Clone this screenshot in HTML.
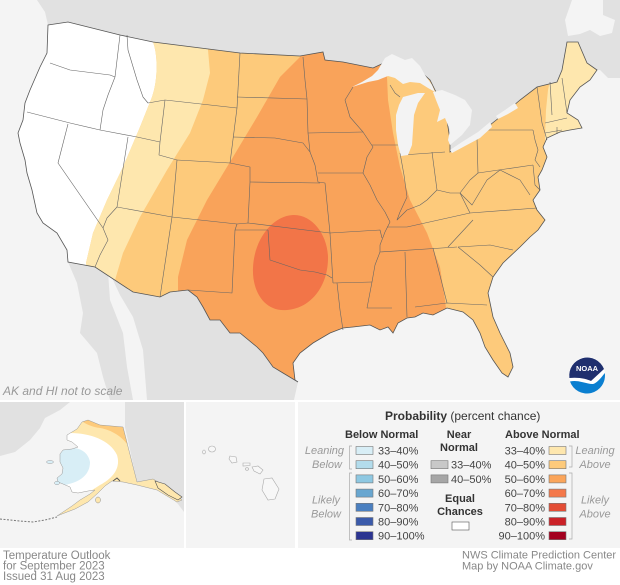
<!DOCTYPE html>
<html><head><meta charset="utf-8"><style>
html,body{margin:0;padding:0;background:#fff;}
svg{display:block;font-family:"Liberation Sans",sans-serif;}
</style></head><body>
<svg width="620" height="585" viewBox="0 0 620 585" xmlns="http://www.w3.org/2000/svg">
<rect width="620" height="585" fill="#fff"/>
<rect x="0" y="0" width="620" height="400" fill="#f4f4f4"/>
<!-- Canada -->
<path fill="#e1e1e1" d="M37,0 L620,0 L620,78 L608,78 L600,70 L597,70 L587,63 L578,42 L567,42 L562,70 L557,82 L537,87 L520,100 L505,113 L490,125 L470,142 L450,152 L447,120 L440,100 L435,90 L430,80 L410,62 L390,60 L373,68 L343,62 L325,60 L323,52 L300,56 L240,53 L153,42 L120,35 L68,22 L48,25 L45,12 Z"/>
<path fill="#f4f4f4" d="M572,0 L603,0 L603,15 L615,20 L612,33 L600,36 L590,30 L580,34 L568,36 L565,20 Z"/>
<!-- Mexico -->
<path fill="#e1e1e1" d="M68,262 L95,267 L133,292 L160,297 L170,292 L188,290 L197,297 L203,307 L210,320 L220,320 L230,333 L240,333 L257,347 L263,353 L273,367 L283,373 L298,382 L294,400 L147,400 L143,350 L133,317 L120,295 L112,278 L108,272 Z"/>
<path fill="#e1e1e1" d="M68,262 L108,272 L110,300 L123,333 L127,367 L133,400 L110,400 L103,377 L97,353 L80,333 L83,313 L77,283 Z"/>
<defs>
<clipPath id="us"><path id="usp" d="M48,25 L68,22 L120,35 L153,42 L240,53 L300,56 L323,52 L325,60 L343,62 L373,68 L390,60 L410,62 L430,80 L435,90 L440,100 L447,120 L450,140 L450,152 L470,142 L490,125 L505,113 L520,100 L537,87 L557,82 L562,70 L567,42 L578,42 L587,63 L597,70 L590,80 L580,87 L570,100 L567,113 L578,120 L582,128 L570,130 L560,132 L547,138 L543,147 L547,157 L542,170 L538,177 L540,190 L533,200 L537,210 L545,220 L538,230 L530,237 L520,247 L503,263 L493,277 L488,293 L493,317 L500,333 L510,353 L513,367 L508,377 L502,373 L493,360 L485,347 L480,333 L473,320 L463,312 L447,308 L433,315 L423,313 L415,317 L407,318 L398,323 L393,333 L388,327 L380,330 L370,325 L353,327 L343,328 L330,333 L313,343 L300,353 L293,363 L295,380 L298,382 L283,373 L273,367 L263,353 L257,347 L240,333 L230,333 L220,320 L210,320 L203,307 L197,297 L188,290 L170,292 L160,297 L133,292 L95,267 L68,262 L67,250 L57,233 L43,223 L37,213 L32,190 L27,173 L25,160 L20,143 L18,133 L23,120 L25,103 L30,90 L40,67 L47,53 Z"/></clipPath>
<clipPath id="ak"><path d="M67,435 L77,429 L82,422 L88,420 L100,425 L123,427 L137,482 L153,479 L167,487 L182,500 L177,502 L157,490 L137,485 L123,482 L112,481 L105,486 L98,493 L88,502 L75,509 L62,514 L57,516 L72,506 L80,500 L90,494 L95,490 L88,491 L78,493 L72,492 L70,487 L63,484 L58,482 L57,478 L62,474 L63,468 L60,462 L60,454 L63,450 L72,449 L78,447 L72,442 L67,440 Z"/></clipPath>
</defs>
<g clip-path="url(#us)">
<rect x="0" y="0" width="620" height="400" fill="#fdca7b"/>
<path fill="#ffffff" d="M0,0 L153,0 L153,42 C158,55 158,80 152,97 L140,127 L123,167 L107,200 L93,233 L86,263 L86,300 L0,300 Z"/>
<path fill="#fee7ae" d="M153,0 L208,0 L208,50 L210,73 L203,100 L190,133 L167,170 L140,217 L123,253 L115,280 L112,300 L86,300 L86,263 L93,233 L107,200 L123,167 L140,127 L152,97 C158,80 158,55 153,42 Z"/>
<path fill="#f9a35a" d="M310,30 L300,57 L280,77 L257,117 L233,157 L207,200 L187,240 L178,277 L178,300 L175,400 L447,400 L447,317 L445,300 L440,267 L427,233 L410,200 L400,167 L393,133 L388,100 L387,77 L386,30 Z"/>
<path fill="#f27548" d="M293,215 C312,214 328,235 328,258 C328,285 312,308 287,310 C265,312 252,292 253,268 C254,240 272,216 293,215 Z"/>
<path fill="#fee7ae" d="M552,30 L620,30 L620,150 L545,150 L545,137 L546,110 L548,90 L551,75 Z"/>
</g>
<g fill="none" stroke="#666" stroke-width="0.6" stroke-linejoin="round">
<polyline points="50,63 70,70 110,75 115,77"/>
<polyline points="120,35 115,77"/>
<polyline points="115,77 108,95 103,110 100,130"/>
<polyline points="27,112 70,123 100,130 137,137 160,142"/>
<polyline points="68,124 58,163 103,228"/>
<polyline points="103,228 108,240 100,255 95,267"/>
<polyline points="128,137 117,207 107,218 103,228"/>
<polyline points="127,35 128,50 137,80 143,97 148,103 165,100"/>
<polyline points="165,100 160,142 159,155 177,160"/>
<polyline points="177,160 230,163"/>
<polyline points="165,100 237,108"/>
<polyline points="237,108 230,163"/>
<polyline points="240,53 237,108"/>
<polyline points="237,97 307,99"/>
<polyline points="233,137 275,138 303,143 310,152"/>
<polyline points="230,163 250,167 250,182 248,223"/>
<polyline points="250,182 320,183"/>
<polyline points="117,207 172,217 237,224 248,223 330,233"/>
<polyline points="177,160 172,217 160,297"/>
<polyline points="237,224 235,230 268,230"/>
<polyline points="235,230 232,293 188,290"/>
<polyline points="268,230 270,260 285,265 300,270 315,272 327,275 332,278"/>
<polyline points="330,233 333,283"/>
<polyline points="303,57 305,80 307,99 308,133 310,152 315,165 318,182 325,183 330,233"/>
<polyline points="308,133 363,132"/>
<polyline points="318,173 363,173"/>
<polyline points="330,233 380,230 382,238"/>
<polyline points="353,87 345,100 350,117 363,132 373,147 367,157 363,173 370,185 377,200 385,212 390,222 385,232 380,245 380,252 375,265 372,282 367,308 392,308"/>
<polyline points="333,283 372,282"/>
<polyline points="337,283 340,310 343,330"/>
<polyline points="372,145 400,145"/>
<polyline points="400,153 404,175 407,197 400,212 397,220 407,210 420,205 427,200 437,190"/>
<polyline points="402,155 445,152"/>
<polyline points="432,152 437,190"/>
<polyline points="437,190 450,193 460,193 470,180 478,173"/>
<polyline points="477,138 478,173 533,165"/>
<polyline points="482,130 533,130"/>
<polyline points="460,193 472,205 487,180 500,170"/>
<polyline points="460,193 470,213"/>
<polyline points="387,227 407,227 470,213 537,208"/>
<polyline points="473,220 448,247"/>
<polyline points="380,252 457,247"/>
<polyline points="405,252 407,317"/>
<polyline points="433,248 447,303"/>
<polyline points="415,307 447,303 487,305"/>
<polyline points="458,247 480,265 493,277"/>
<polyline points="458,247 490,245 513,250"/>
<polyline points="537,87 542,123 545,133 547,140"/>
<polyline points="550,82 552,115"/>
<polyline points="562,78 567,113"/>
<polyline points="545,123 567,118"/>
<polyline points="545,133 562,130"/>
<polyline points="557,127 557,134"/>
<polyline points="533,130 535,140 538,150 535,160 540,167"/>
<polyline points="533,165 535,185 540,190"/>
<polyline points="500,170 520,180 530,195"/>
<polyline points="390,85 395,93 400,97"/>
</g>
<use href="#usp" fill="none" stroke="#555" stroke-width="0.8"/>
<g fill="#f3f3f3">
<path d="M352,87 L362,82 L372,76 L378,70 L385,58 L392,54 L405,60 L412,58 L420,66 L425,75 L432,85 L435,92 L428,88 L420,83 L410,82 L403,84 L395,78 L388,76 L378,80 L368,82 Z"/>
<path d="M403,97 L418,93 L425,93 L418,103 L414,115 L413,130 L412,145 L408,155 L401,156 L398,145 L396,130 L396,115 L399,105 Z"/>
<path d="M433,92 L442,90 L455,95 L465,100 L472,110 L470,125 L462,135 L450,145 L448,140 L450,130 L445,118 L437,122 L440,110 L436,100 Z"/>
<path d="M450,150 L462,142 L478,132 L490,122 L492,127 L480,138 L465,146 L452,153 Z"/>
<path d="M496,116 L505,110 L515,103 L518,108 L508,114 L498,119 Z"/>
</g>
<text x="3" y="395" font-size="12" font-style="italic" fill="#999">AK and HI not to scale</text>
<g transform="translate(587,375)">
<circle r="18" fill="#fff"/>
<path fill="#1f2f6e" d="M-17.6,3 A18,18 0 0 1 17,-6 L4,6 C0,4 -8,2 -17.6,3 Z"/>
<path fill="#0b7fd0" d="M-17,6.5 C-8,4.5 0,9.5 6,9 C10,8 14,3 17.8,-2 A18,18 0 0 1 -17,6.5 Z"/>
<text x="0" y="-4" font-size="7.5" font-weight="bold" fill="#fff" text-anchor="middle">NOAA</text>
</g>
<rect x="0" y="402" width="184" height="146" fill="#f4f4f4"/>
<rect x="186" y="402" width="109" height="146" fill="#f4f4f4"/>
<rect x="298" y="402" width="322" height="146" fill="#f4f4f4"/>
<path fill="#e1e1e1" d="M0,402 L70,402 L60,410 L45,418 L40,428 L30,440 L15,452 L0,456 Z"/>
<path fill="#e1e1e1" d="M125,402 L184,402 L184,512 L178,504 L165,492 L150,482 L137,482 L125,427 Z"/>
<g clip-path="url(#ak)">
<rect x="0" y="402" width="184" height="146" fill="#fee7ae"/>
<path fill="#fdca7b" d="M80,412 L135,412 L127,444 C122,437 112,430 100,428 C93,427 88,425 83,422 Z"/>
<path fill="#ffffff" d="M50,428 L70,433 C90,433 110,440 117,455 C121,468 113,478 100,485 C92,490 86,494 80,497 L50,497 Z"/>
<path fill="#d8eef6" d="M50,447 L62,449 C75,445 88,450 90,462 C90,475 80,482 65,485 L50,485 Z"/>
</g>
<g fill="none" stroke="#999" stroke-width="0.5">
<path d="M67,435 L77,429 L82,422 L88,420 L100,425 L123,427 L137,482 L153,479 L167,487 L182,500 L177,502 L157,490 L137,485 L123,482 L112,481 L105,486 L98,493 L88,502 L75,509 L62,514 L57,516 L72,506 L80,500 L90,494 L95,490 L88,491 L78,493 L72,492 L70,487 L63,484 L58,482 L57,478 L62,474 L63,468 L60,462 L60,454 L63,450 L72,449 L78,447 L72,442 L67,440 Z"/>
</g>
<ellipse cx="50" cy="462" rx="3.5" ry="1.5" fill="#d8eef6" stroke="#888" stroke-width="0.4"/>
<ellipse cx="57" cy="483" rx="2.5" ry="1.8" fill="#d8eef6" stroke="#888" stroke-width="0.4"/>
<ellipse cx="98" cy="500" rx="2.5" ry="3" fill="#fee7ae" stroke="#777" stroke-width="0.4"/>
<path d="M155,481 L165,484 L175,492 L182,497 L178,500 L168,495 L158,488 Z" fill="#fee7ae" stroke="#555" stroke-width="0.6"/>
<polyline points="0,519 10,520 20,521 33,522 45,520 57,517" fill="none" stroke="#777" stroke-width="1" stroke-dasharray="2,1.5"/>
<path d="M113,481 L117,478 L120,481" fill="none" stroke="#555" stroke-width="1"/>
<g fill="#f7f7f7" stroke="#aaa" stroke-width="0.6">
<ellipse cx="204" cy="452" rx="1.3" ry="2"/>
<ellipse cx="212" cy="449" rx="3.5" ry="3"/>
<path d="M230,456 L236,457 L237,462 L232,463 L229,459 Z"/>
<path d="M243,463 L250,463 L250,465.5 L243,466 Z"/>
<ellipse cx="247" cy="469" rx="1.5" ry="1.3"/>
<path d="M252,467 L258,466 L263,470 L260,474 L254,471 Z"/>
<path d="M264,479 L272,478 L279,489 L275,499 L268,500 L262,490 Z"/>
</g>
<text x="385" y="420" font-size="12" fill="#333"><tspan font-weight="bold">Probability</tspan> (percent chance)</text>
<g font-size="11" fill="#333" font-weight="bold">
<text x="345" y="438">Below Normal</text>
<text x="505" y="438">Above Normal</text>
<text x="459" y="438" text-anchor="middle">Near</text>
<text x="459" y="451" text-anchor="middle">Normal</text>
<text x="460" y="502" text-anchor="middle">Equal</text>
<text x="460" y="515" text-anchor="middle">Chances</text>
</g>
<g font-size="11" font-style="italic" fill="#999">
<text x="344" y="454" text-anchor="end">Leaning</text>
<text x="342" y="468" text-anchor="end">Below</text>
<text x="326" y="503.5" text-anchor="middle">Likely</text>
<text x="326" y="517.5" text-anchor="middle">Below</text>
<text x="595" y="454" text-anchor="middle">Leaning</text>
<text x="595" y="468" text-anchor="middle">Above</text>
<text x="595" y="503.5" text-anchor="middle">Likely</text>
<text x="595" y="517.5" text-anchor="middle">Above</text>
</g>
<g fill="none" stroke="#aaa" stroke-width="0.7">
<path d="M352,446 L349.5,446 L349.5,469 L352,469"/>
<path d="M352,473 L349.5,473 L349.5,540 L352,540"/>
<path d="M569,446 L572,446 L572,467 L569,467"/>
<path d="M569,473 L572,473 L572,539 L569,539"/>
</g>
<g stroke="#777" stroke-width="0.6">
<rect x="356" y="446.5" width="17" height="8" fill="#d8eef6"/>
<rect x="356" y="460.7" width="17" height="8" fill="#b3dcec"/>
<rect x="356" y="474.9" width="17" height="8" fill="#8ec8e2"/>
<rect x="356" y="489.1" width="17" height="8" fill="#68a6d0"/>
<rect x="356" y="503.3" width="17" height="8" fill="#4a7fc0"/>
<rect x="356" y="517.5" width="17" height="8" fill="#3a5aaa"/>
<rect x="356" y="531.7" width="17" height="8" fill="#2b3491"/>
<rect x="431" y="460.7" width="17" height="8" fill="#c8c8c8"/>
<rect x="431" y="474.9" width="17" height="8" fill="#a6a6a6"/>
<rect x="452" y="522" width="17" height="8" fill="#fff" stroke="#555"/>
<rect x="549" y="446.5" width="17" height="8" fill="#fee7ae"/>
<rect x="549" y="460.7" width="17" height="8" fill="#fdca7b"/>
<rect x="549" y="474.9" width="17" height="8" fill="#fba55a"/>
<rect x="549" y="489.1" width="17" height="8" fill="#f4784a"/>
<rect x="549" y="503.3" width="17" height="8" fill="#e34c34"/>
<rect x="549" y="517.5" width="17" height="8" fill="#cb2127"/>
<rect x="549" y="531.7" width="17" height="8" fill="#a3001f"/>
</g>
<g font-size="11" fill="#444">
<text x="378" y="454.5">33–40%</text>
<text x="378" y="468.7">40–50%</text>
<text x="378" y="482.9">50–60%</text>
<text x="378" y="497.1">60–70%</text>
<text x="378" y="511.3">70–80%</text>
<text x="378" y="525.5">80–90%</text>
<text x="378" y="539.7">90–100%</text>
<text x="451" y="468.7">33–40%</text>
<text x="451" y="482.9">40–50%</text>
<g text-anchor="end">
<text x="545" y="454.5">33–40%</text>
<text x="545" y="468.7">40–50%</text>
<text x="545" y="482.9">50–60%</text>
<text x="545" y="497.1">60–70%</text>
<text x="545" y="511.3">70–80%</text>
<text x="545" y="525.5">80–90%</text>
<text x="545" y="539.7">90–100%</text>
</g>
</g>
<g font-size="11.5" fill="#888">
<text x="3" y="559">Temperature Outlook</text>
<text x="3" y="569.5">for September 2023</text>
<text x="3" y="580">Issued 31 Aug 2023</text>
</g>
<g font-size="11" fill="#888">
<text x="462" y="558.5">NWS Climate Prediction Center</text>
<text x="462" y="569.5">Map by NOAA Climate.gov</text>
</g>
</svg>
</body></html>
